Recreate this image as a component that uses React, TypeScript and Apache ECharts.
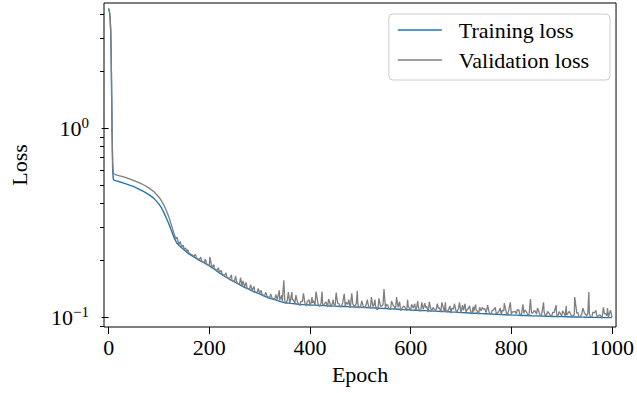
import React, { useEffect, useRef } from "react";
import * as echarts from "echarts";

// [epoch, loss]
const trainingLoss: [number, number][] = [
  [0, 4.28], [1, 4.2], [2, 4.05], [3, 3.75], [4, 3.3], [5, 2.4], [6, 1.45], [7, 0.86], [8, 0.6], [9, 0.545],
  [10, 0.533], [15, 0.527], [20, 0.523], [30, 0.513], [40, 0.502], [50, 0.491], [60, 0.477], [70, 0.462],
  [80, 0.446], [90, 0.426], [100, 0.397], [105, 0.379], [110, 0.357], [115, 0.333], [120, 0.31], [125, 0.286],
  [130, 0.264], [135, 0.248], [140, 0.24], [150, 0.227], [160, 0.216], [170, 0.208], [180, 0.2], [190, 0.194],
  [200, 0.187], [210, 0.18], [220, 0.172], [230, 0.165], [240, 0.159], [250, 0.154], [260, 0.149], [270, 0.144],
  [280, 0.14], [290, 0.136], [300, 0.133], [310, 0.129], [320, 0.126], [330, 0.124], [340, 0.1215],
  [350, 0.1195], [360, 0.1185], [370, 0.118], [380, 0.117], [390, 0.1168], [400, 0.1162], [410, 0.116],
  [420, 0.1155], [430, 0.1153], [440, 0.1148], [450, 0.1147], [460, 0.1142], [470, 0.1141], [480, 0.1136],
  [490, 0.1135], [500, 0.1131], [510, 0.1128], [520, 0.1124], [530, 0.1121], [540, 0.1117], [550, 0.1114],
  [560, 0.1108], [570, 0.1106], [580, 0.11], [590, 0.1098], [600, 0.1093], [610, 0.1091], [620, 0.1087],
  [630, 0.1085], [640, 0.108], [650, 0.1079], [660, 0.1074], [670, 0.1073], [680, 0.1067], [690, 0.1066],
  [700, 0.1059], [710, 0.1057], [720, 0.1052], [730, 0.1051], [740, 0.1046], [750, 0.1045], [760, 0.104],
  [770, 0.1038], [780, 0.1033], [790, 0.1032], [800, 0.1028], [810, 0.1027], [820, 0.1023], [830, 0.1022],
  [840, 0.1019], [850, 0.1018], [860, 0.1015], [870, 0.1014], [880, 0.1011], [890, 0.1011], [900, 0.1009],
  [910, 0.1008], [920, 0.1005], [930, 0.1005], [940, 0.1003], [950, 0.1002], [960, 0.1], [970, 0.0999],
  [980, 0.0998], [990, 0.0997], [1000, 0.0996],
];

const validationLoss: [number, number][] = [
  [0, 4.32], [1, 4.22], [2, 4.08], [3, 3.78], [4, 3.35], [5, 2.5], [6, 1.55], [7, 0.93], [8, 0.65], [9, 0.585],
  [10, 0.575], [15, 0.567], [20, 0.562], [30, 0.553], [40, 0.542], [50, 0.529], [60, 0.516], [70, 0.501],
  [80, 0.484], [90, 0.462], [100, 0.432], [105, 0.413], [110, 0.391], [115, 0.365], [120, 0.337], [125, 0.305],
  [130, 0.276], [134, 0.26], [136, 0.266], [138, 0.25], [140, 0.243], [142, 0.252], [145, 0.236], [148, 0.241],
  [150, 0.229], [153, 0.233], [155, 0.223], [157, 0.228], [160, 0.218], [165, 0.215], [170, 0.21], [172, 0.216],
  [175, 0.205], [180, 0.202], [183, 0.208], [185, 0.198], [190, 0.195], [192, 0.203], [195, 0.191], [200, 0.188],
  [201, 0.209], [205, 0.184], [209, 0.19], [210, 0.181], [215, 0.177], [218, 0.183], [220, 0.173], [224, 0.177],
  [225, 0.17], [230, 0.166], [233, 0.172], [235, 0.163], [240, 0.16], [244, 0.168], [245, 0.157], [250, 0.155],
  [252, 0.165], [255, 0.152], [260, 0.15], [262, 0.162], [265, 0.147], [267, 0.156], [270, 0.145], [273, 0.153],
  [275, 0.143], [280, 0.141], [282, 0.149], [285, 0.139], [289, 0.146], [290, 0.137], [295, 0.135], [297, 0.142],
  [300, 0.134], [303, 0.139], [305, 0.132], [310, 0.13], [312, 0.136], [315, 0.129], [320, 0.127], [322, 0.133],
  [325, 0.126], [330, 0.125], [332, 0.132], [335, 0.124], [339, 0.139], [340, 0.123], [344, 0.131], [345, 0.122],
  [348, 0.157], [350, 0.121], [352, 0.1185], [355, 0.1231], [357, 0.136], [360, 0.1181], [364, 0.136],
  [365, 0.1238], [367, 0.1237], [370, 0.1188], [372, 0.131], [375, 0.1207], [377, 0.1181], [380, 0.1154],
  [382, 0.1214], [385, 0.1212], [387, 0.134], [390, 0.1185], [392, 0.1148], [395, 0.1218], [398, 0.124],
  [400, 0.1156], [402, 0.1191], [404, 0.128], [405, 0.119], [407, 0.1224], [410, 0.1164], [412, 0.137],
  [415, 0.1222], [417, 0.1151], [420, 0.115], [422, 0.1196], [424, 0.137], [425, 0.1172], [427, 0.1159],
  [430, 0.1193], [432, 0.1205], [435, 0.1134], [437, 0.125], [440, 0.118], [442, 0.1133], [445, 0.1202],
  [446, 0.124], [447, 0.1178], [450, 0.1153], [452, 0.135], [455, 0.1186], [457, 0.1186], [460, 0.1139],
  [462, 0.1138], [465, 0.1195], [468, 0.133], [470, 0.1146], [472, 0.1204], [475, 0.1169], [477, 0.124],
  [480, 0.112], [483, 0.134], [485, 0.1176], [487, 0.1153], [490, 0.1152], [492, 0.1186], [494, 0.138],
  [495, 0.1186], [497, 0.1127], [500, 0.1127], [503, 0.122], [505, 0.1159], [507, 0.1124], [510, 0.1135],
  [512, 0.1179], [514, 0.124], [515, 0.119], [517, 0.1132], [520, 0.1119], [522, 0.128], [525, 0.114],
  [527, 0.1162], [529, 0.124], [530, 0.1161], [532, 0.1103], [535, 0.1102], [537, 0.126], [540, 0.1145],
  [542, 0.1144], [545, 0.1166], [547, 0.141], [550, 0.1119], [552, 0.1174], [555, 0.1151], [557, 0.1104],
  [560, 0.1103], [562, 0.122], [565, 0.1158], [567, 0.1145], [570, 0.1111], [572, 0.128], [575, 0.1131],
  [578, 0.121], [580, 0.1084], [582, 0.1106], [585, 0.1138], [587, 0.1148], [590, 0.1114], [592, 0.108],
  [594, 0.124], [595, 0.1145], [597, 0.1122], [600, 0.1088], [602, 0.117], [605, 0.1119], [608, 0.118],
  [610, 0.1095], [612, 0.1128], [614, 0.122], [615, 0.1149], [617, 0.1082], [620, 0.1081], [622, 0.12],
  [625, 0.1102], [628, 0.119], [630, 0.1122], [632, 0.1143], [635, 0.1065], [637, 0.121], [640, 0.1108],
  [642, 0.1086], [645, 0.1129], [647, 0.1096], [650, 0.1084], [653, 0.118], [655, 0.1115], [657, 0.1126],
  [660, 0.107], [662, 0.12], [665, 0.1123], [667, 0.1068], [669, 0.12], [670, 0.1078], [672, 0.1066],
  [675, 0.1098], [678, 0.115], [680, 0.1053], [682, 0.1118], [685, 0.1106], [687, 0.118], [690, 0.1083],
  [692, 0.1071], [695, 0.1113], [697, 0.12], [700, 0.1058], [703, 0.116], [705, 0.1089], [708, 0.118],
  [710, 0.1065], [712, 0.1098], [715, 0.1118], [717, 0.115], [720, 0.1053], [722, 0.1042], [724, 0.114],
  [725, 0.1073], [729, 0.117], [730, 0.1093], [732, 0.1082], [735, 0.1039], [737, 0.113], [740, 0.1081],
  [742, 0.113], [745, 0.1102], [747, 0.1113], [750, 0.1059], [753, 0.116], [755, 0.1089], [757, 0.1046],
  [760, 0.1045], [762, 0.1086], [765, 0.1096], [768, 0.113], [770, 0.1051], [772, 0.1051], [775, 0.1072],
  [778, 0.112], [780, 0.1028], [782, 0.1092], [785, 0.1081], [786, 0.119], [790, 0.106], [792, 0.1028],
  [795, 0.1092], [798, 0.12], [800, 0.1039], [802, 0.107], [805, 0.1069], [807, 0.1078], [810, 0.1045],
  [812, 0.11], [815, 0.1096], [817, 0.1032], [820, 0.1031], [823, 0.117], [825, 0.105], [827, 0.1092],
  [830, 0.1071], [832, 0.104], [835, 0.1019], [838, 0.125], [840, 0.1061], [842, 0.105], [845, 0.1082],
  [847, 0.1082], [850, 0.104], [852, 0.112], [855, 0.1069], [857, 0.1026], [860, 0.1025], [864, 0.12],
  [865, 0.1075], [867, 0.1022], [870, 0.1032], [872, 0.1073], [875, 0.1051], [877, 0.1031], [880, 0.1009],
  [882, 0.1061], [885, 0.1061], [889, 0.116], [890, 0.104], [892, 0.1009], [895, 0.1071], [897, 0.105],
  [900, 0.1019], [902, 0.1081], [905, 0.1048], [907, 0.1016], [909, 0.115], [910, 0.1026], [915, 0.1075],
  [917, 0.1054], [920, 0.1011], [922, 0.1021], [925, 0.103], [926, 0.128], [930, 0.1051], [932, 0.1061],
  [935, 0.0999], [937, 0.1012], [940, 0.104], [942, 0.112], [945, 0.1061], [947, 0.104], [950, 0.102],
  [952, 0.105], [954, 0.136], [955, 0.1049], [957, 0.1006], [960, 0.1005], [962, 0.1066], [965, 0.1055],
  [968, 0.109], [970, 0.1012], [972, 0.1012], [975, 0.1031], [977, 0.1021], [980, 0.0989], [983, 0.113],
  [985, 0.104], [987, 0.1051], [990, 0.102], [991, 0.112], [993, 0.1], [995, 0.1051], [997, 0.109], [1000, 0.1],
];

const xTicks = [0, 200, 400, 600, 800, 1000];
const yMajorTicks = [0.1, 1];
const yMinorTicks = [0.09, 0.2, 0.3, 0.4, 0.5, 0.6, 0.7, 0.8, 0.9, 2, 3, 4];
const seriesNames = ["Training loss", "Validation loss"];
const seriesColors = ["#1f77b4", "#7f7f7f"];

const FONT = "'Liberation Serif', 'DejaVu Serif', serif";

export default function App() {
  const ref = useRef<HTMLDivElement>(null);
  useEffect(() => {
    if (!ref.current) return;
    const chart = echarts.init(ref.current, null, { renderer: "svg" });
    const yMin = 0.0889;
    const yMax = 4.6;
    chart.setOption({
      animation: false,
      backgroundColor: "#ffffff",
      grid: {
        left: 103,
        top: 3,
        right: 17,
        bottom: 66,
        show: true,
        borderColor: "#000000",
        borderWidth: 1,
        backgroundColor: "transparent",
      },
      legend: {
        data: seriesNames.map((n) => ({ name: n, icon: "rect" })),
        orient: "vertical",
        right: 27,
        top: 14,
        itemWidth: 44,
        itemHeight: 1.5,
        itemGap: 6,
        padding: [4, 21, 8, 9],
        borderColor: "#cccccc",
        borderWidth: 1,
        borderRadius: 4,
        backgroundColor: "rgba(255,255,255,0.8)",
        textStyle: {
          fontFamily: FONT,
          fontSize: 22,
          color: "#000",
          lineHeight: 24,
          padding: [0, 0, 0, 12],
        },
      },
      xAxis: {
        type: "value",
        min: -9.25,
        max: 1008,
        name: "Epoch",
        nameLocation: "middle",
        nameGap: 36,
        nameTextStyle: { fontFamily: FONT, fontSize: 22, color: "#000" },
        axisLine: { show: false },
        splitLine: { show: false },
        axisTick: {
          show: true,
          length: 7,
          lineStyle: { color: "#000", width: 1 },
          customValues: xTicks,
        },
        axisLabel: {
          customValues: xTicks,
          formatter: (v: number) => String(Math.round(v)),
          fontFamily: FONT,
          fontSize: 22,
          color: "#000",
          margin: 9,
        },
      },
      yAxis: [
        {
          type: "log",
          logBase: 10,
          min: yMin,
          max: yMax,
          name: "Loss",
          nameLocation: "middle",
          nameGap: 74,
          nameTextStyle: { fontFamily: FONT, fontSize: 22, color: "#000" },
          axisLine: { show: false },
          splitLine: { show: false },
          minorTick: { show: false },
          axisTick: {
            show: true,
            length: 7,
            lineStyle: { color: "#000", width: 1 },
            customValues: yMajorTicks,
          },
          axisLabel: {
            customValues: yMajorTicks,
            margin: 15,
            formatter: (v: number) => (v > 0.5 ? "{b|10}{s|0}" : "{b|10}{s|\u22121}"),
            rich: {
              b: { fontFamily: FONT, fontSize: 22, color: "#000", lineHeight: 26 },
              s: { fontFamily: FONT, fontSize: 15, color: "#000", lineHeight: 14, verticalAlign: "top" },
            },
          },
        },
        {
          type: "log",
          logBase: 10,
          min: yMin,
          max: yMax,
          position: "left",
          axisLine: { show: false },
          splitLine: { show: false },
          axisLabel: { show: false },
          axisTick: {
            show: true,
            length: 4,
            lineStyle: { color: "#000", width: 1 },
            customValues: yMinorTicks,
          },
        },
      ],
      series: [
        {
          name: seriesNames[0],
          type: "line",
          data: trainingLoss,
          symbol: "none",
          showSymbol: false,
          itemStyle: { color: seriesColors[0] },
          lineStyle: { color: seriesColors[0], width: 1.4 },
          z: 2,
        },
        {
          name: seriesNames[1],
          type: "line",
          data: validationLoss,
          symbol: "none",
          showSymbol: false,
          itemStyle: { color: seriesColors[1] },
          lineStyle: { color: seriesColors[1], width: 1.3 },
          z: 3,
        },
      ],
    });
    return () => chart.dispose();
  }, []);
  return (
    <div
      ref={ref}
      style={{ position: "fixed", left: 0, top: 0, width: 637, height: 393, background: "#fff" }}
    />
  );
}
